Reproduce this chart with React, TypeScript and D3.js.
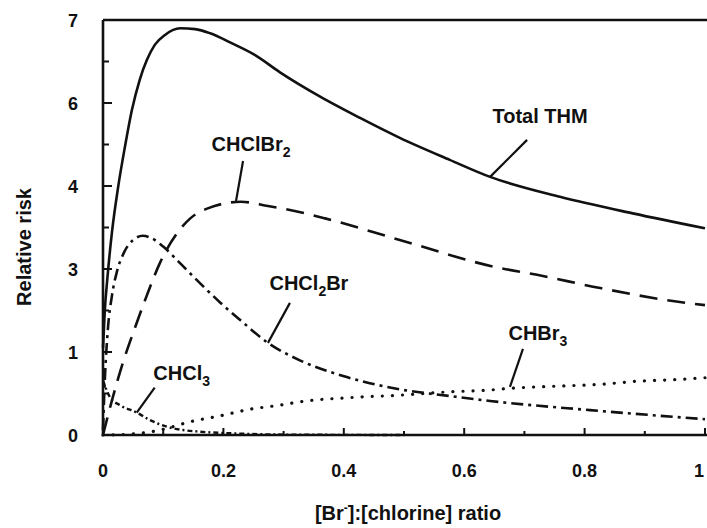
import React, { useEffect, useRef } from 'react';
import * as d3 from 'd3';

// Relative risk vs [Br-]:[chlorine] ratio.
// The y axis of the scan is labelled 0,1,3,4,6,7 at evenly spaced ticks, so the
// y scale is piecewise linear through those labels.
const yTicks = [0, 1, 3, 4, 6, 7];
const yMinorTicks = [0.5, 2, 3.5, 5, 6.5];
const xTicks = [0, 0.2, 0.4, 0.6, 0.8, 1];
const xTickLabels = ['0', '0.2', '0.4', '0.6', '0.8', '1'];
const xMinorTicks = [0.1, 0.3, 0.5, 0.7, 0.9];

const totalTHM: [number, number][] = [
  [0, 1.1], [0.003, 2.0], [0.007, 2.73], [0.015, 3.45], [0.025, 3.98], [0.037, 4.99],
  [0.048, 5.83], [0.061, 6.28], [0.073, 6.52], [0.086, 6.7], [0.103, 6.82], [0.128, 6.9],
  [0.153, 6.89], [0.178, 6.84], [0.211, 6.73], [0.252, 6.58], [0.294, 6.37], [0.36, 6.08],
  [0.427, 5.64], [0.493, 5.16], [0.576, 4.63], [0.643, 4.22], [0.759, 3.87], [0.88, 3.67],
  [1.0, 3.49],
];
const chclbr2: [number, number][] = [
  [0, 0], [0.015, 0.42], [0.033, 0.87], [0.053, 1.58], [0.073, 2.37], [0.095, 3.08],
  [0.123, 3.43], [0.145, 3.61], [0.174, 3.73], [0.229, 3.81], [0.274, 3.76], [0.324, 3.69],
  [0.369, 3.61], [0.493, 3.35], [0.654, 3.02], [0.721, 2.86], [0.826, 2.54], [0.97, 2.18],
  [1.0, 2.13],
];
const chcl2br: [number, number][] = [
  [0, 0.06], [0.003, 0.66], [0.008, 1.53], [0.015, 2.37], [0.023, 2.93], [0.035, 3.2],
  [0.05, 3.35], [0.066, 3.4], [0.081, 3.37], [0.1, 3.27], [0.128, 3.07], [0.161, 2.66],
  [0.194, 2.2], [0.228, 1.77], [0.274, 1.22], [0.327, 0.9], [0.399, 0.71], [0.493, 0.55],
  [0.576, 0.47], [0.643, 0.41], [0.809, 0.3], [1.0, 0.19],
];
const chbr3: [number, number][] = [
  [0, 0], [0.045, 0.01], [0.095, 0.06], [0.145, 0.16], [0.194, 0.23], [0.244, 0.31],
  [0.294, 0.36], [0.327, 0.4], [0.41, 0.45], [0.493, 0.48], [0.576, 0.52], [0.638, 0.54],
  [0.693, 0.57], [0.759, 0.59], [0.826, 0.61], [0.892, 0.65], [0.958, 0.67], [1.0, 0.69],
];
const chcl3: [number, number][] = [
  [0, 0.66], [0.012, 0.45], [0.028, 0.36], [0.056, 0.27], [0.078, 0.18], [0.106, 0.1],
  [0.133, 0.06], [0.161, 0.04], [0.216, 0.02], [0.3, 0.005], [0.5, 0],
];

const series = [
  { name: 'Total THM', data: totalTHM, dash: null, width: 2.6, cap: 'butt' },
  { name: 'CHClBr2', data: chclbr2, dash: '18,10', width: 2.6, cap: 'butt' },
  { name: 'CHCl2Br', data: chcl2br, dash: '12,5,3,5', width: 2.6, cap: 'butt' },
  { name: 'CHBr3', data: chbr3, dash: '0.1,10', width: 3.2, cap: 'round' },
  { name: 'CHCl3', data: chcl3, dash: '5,3,2,3', width: 2.4, cap: 'butt' },
];

// labels: anchor on the curve (data units), pointer end and text position as pixel offsets
const annotations = [
  { main: 'Total THM', sub: '', tail: '', x: 0.643, y: 4.22, px: 37, py: -37, tx: 50, ty: -54 },
  { main: 'CHClBr', sub: '2', tail: '', x: 0.221, y: 3.82, px: 7, py: -40, tx: 15, ty: -50 },
  { main: 'CHCl', sub: '2', tail: 'Br', x: 0.274, y: 1.22, px: 22, py: -40, tx: 41, ty: -53 },
  { main: 'CHBr', sub: '3', tail: '', x: 0.676, y: 0.58, px: 13, py: -38, tx: 28, ty: -47 },
  { main: 'CHCl', sub: '3', tail: '', x: 0.056, y: 0.27, px: 18, py: -25, tx: 45, ty: -33 },
];

const params = {
  width: 707,
  height: 528,
  left: 103,
  right: 705,
  top: 20,
  bottom: 435,
  font: 'Liberation Sans, Arial, Helvetica, sans-serif',
};

export default function App() {
  const svgRef = useRef<SVGSVGElement>(null);

  useEffect(() => {
    const svg = d3.select(svgRef.current);
    svg.selectAll('*').remove();
    const { left, right, top, bottom } = params;

    const x = d3.scaleLinear().domain([0, 1]).range([left, right]);
    const step = (bottom - top) / (yTicks.length - 1);
    const y = d3.scaleLinear()
      .domain(yTicks)
      .range(yTicks.map((_, i) => bottom - i * step));

    const g = svg.append('g').attr('font-family', params.font).attr('font-weight', 'bold');

    // frame
    g.append('path')
      .attr('d', `M${left},${top}H${params.width}M${left},${top}V${bottom}H${params.width}`)
      .attr('fill', 'none').attr('stroke', '#111').attr('stroke-width', 2.6);

    // y ticks, pointing inwards
    g.selectAll('line.ymaj').data(yTicks.slice(1, -1)).enter().append('line')
      .attr('x1', left).attr('x2', left + 9)
      .attr('y1', d => y(d)).attr('y2', d => y(d))
      .attr('stroke', '#111').attr('stroke-width', 2);
    g.selectAll('line.ymin').data(yMinorTicks).enter().append('line')
      .attr('x1', left).attr('x2', left + 6)
      .attr('y1', d => y(d)).attr('y2', d => y(d))
      .attr('stroke', '#111').attr('stroke-width', 2);
    g.selectAll('text.ylab').data(yTicks).enter().append('text')
      .attr('x', left - 25).attr('y', d => y(d) + 6.5)
      .attr('text-anchor', 'end').attr('font-size', 18).attr('fill', '#111')
      .text(d => String(d));

    // x ticks
    g.selectAll('line.xmaj').data(xTicks.slice(1)).enter().append('line')
      .attr('x1', d => x(d)).attr('x2', d => x(d))
      .attr('y1', bottom).attr('y2', bottom - 7)
      .attr('stroke', '#111').attr('stroke-width', 2);
    g.selectAll('line.xmin').data(xMinorTicks).enter().append('line')
      .attr('x1', d => x(d)).attr('x2', d => x(d))
      .attr('y1', bottom).attr('y2', bottom - 4)
      .attr('stroke', '#111').attr('stroke-width', 2);
    // the last label sits at the picture's edge, keep it inside
    g.selectAll('text.xlab').data(xTicks).enter().append('text')
      .attr('x', d => Math.min(x(d), params.width - 8)).attr('y', bottom + 42)
      .attr('text-anchor', 'middle').attr('font-size', 18).attr('fill', '#111')
      .text((d, i) => xTickLabels[i]);

    // axis titles
    g.append('text')
      .attr('transform', `translate(31,247) rotate(-90)`)
      .attr('text-anchor', 'middle').attr('font-size', 20).attr('fill', '#111')
      .text('Relative risk');
    const xt = g.append('text')
      .attr('x', (left + right) / 2 + 4).attr('y', 520)
      .attr('text-anchor', 'middle').attr('font-size', 20).attr('fill', '#111');
    xt.append('tspan').text('[Br');
    xt.append('tspan').attr('dy', -8).attr('font-size', 12).text('-');
    xt.append('tspan').attr('dy', 8).text(']:[chlorine] ratio');

    // curves
    const line = d3.line<[number, number]>()
      .x(d => x(d[0]))
      .y(d => y(d[1]))
      .curve(d3.curveMonotoneX);

    series.forEach(s => {
      g.append('path')
        .attr('d', line(s.data))
        .attr('fill', 'none')
        .attr('stroke', '#111')
        .attr('stroke-width', s.width)
        .attr('stroke-linecap', s.cap)
        .attr('stroke-dasharray', s.dash);
    });

    // labels with leader lines
    annotations.forEach(a => {
      const ax = x(a.x), ay = y(a.y);
      g.append('line')
        .attr('x1', ax).attr('y1', ay)
        .attr('x2', ax + a.px).attr('y2', ay + a.py)
        .attr('stroke', '#111').attr('stroke-width', 2.2);
      const t = g.append('text')
        .attr('x', ax + a.tx).attr('y', ay + a.ty)
        .attr('text-anchor', 'middle').attr('font-size', 20).attr('fill', '#111');
      t.append('tspan').text(a.main);
      if (a.sub) t.append('tspan').attr('dy', 6).attr('font-size', 14).text(a.sub);
      if (a.tail) t.append('tspan').attr('dy', -6).text(a.tail);
    });
  }, []);

  return (
    <svg
      ref={svgRef}
      width={params.width}
      height={params.height}
      style={{ position: 'absolute', left: 0, top: 0, background: '#fff' }}
    />
  );
}
